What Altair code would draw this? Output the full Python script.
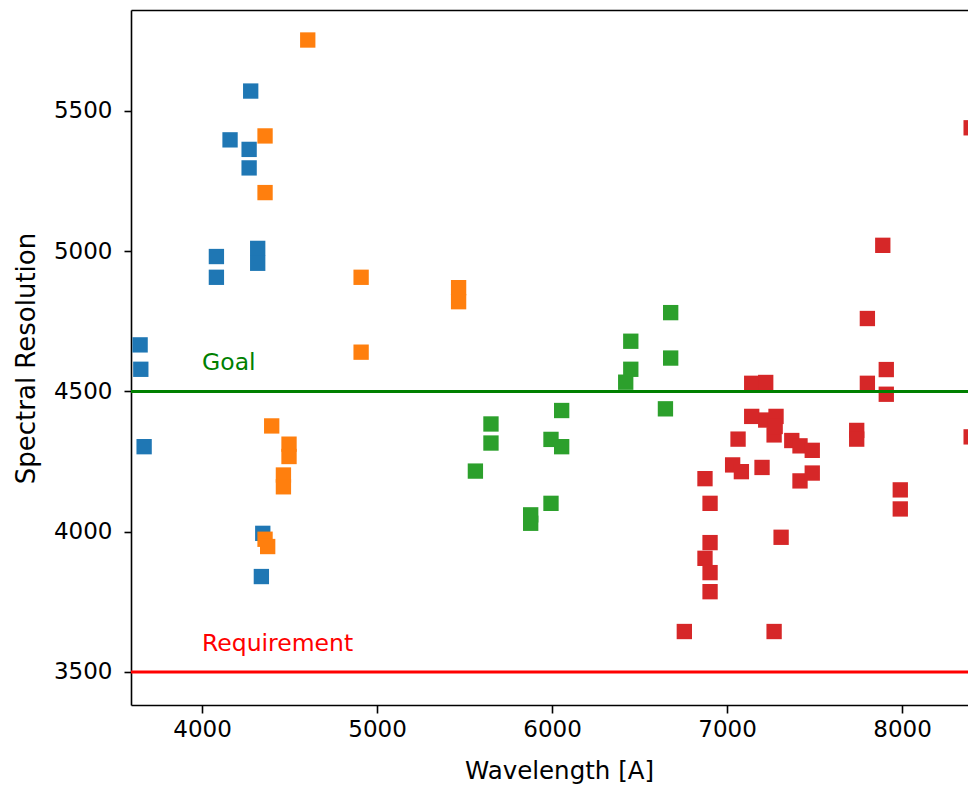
import altair as alt
import pandas as pd

# ---- data ----
blue_x = [3646, 3650, 3669, 4160, 4278, 4269, 4269, 4082, 4082, 4318, 4318, 4347, 4339]
blue_y = [4666, 4579, 4303, 5397, 5571, 5363, 5297, 4981, 4907, 5010, 4957, 3994, 3840]

orange_x = [4604, 4360, 4360, 4909, 4909, 5466, 5466, 4398, 4497, 4497, 4465, 4465, 4360, 4375]
orange_y = [5753, 5411, 5209, 4907, 4640, 4870, 4820, 4377, 4312, 4268, 4202, 4160, 3973, 3947]

green_x = [5562, 5651, 5651, 5878, 5878, 5994, 5994, 6055, 6055, 6421, 6450, 6450, 6648, 6678, 6678]
green_y = [4216, 4384, 4316, 4060, 4030, 4329, 4101, 4432, 4303, 4533, 4579, 4679, 4438, 4619, 4781]

red_x = [6756, 6874, 6874, 6903, 6903, 6903, 6903, 7032, 7063, 7082, 7141, 7141, 7200, 7221, 7221,
         7269, 7269, 7280, 7275, 7309, 7370, 7417, 7417, 7487, 7487, 7741, 7741, 7802, 7802, 7890,
         7910, 7910, 7990, 7990, 8395, 8395]
red_y = [3644, 4189, 3905, 4101, 3961, 3854, 3786, 4238, 4330, 4214, 4529, 4411, 4229, 4532, 4398,
         4345, 3644, 4411, 4375, 3980, 4325, 4306, 4181, 4290, 4209, 4361, 4330, 4760, 4529, 5021,
         4578, 4490, 4149, 4081, 5440, 4338]

series_names = ["s1", "s2", "s3", "s4"]
series_colors = ["#1f77b4", "#ff7f0e", "#2ca02c", "#d62728"]

level_names = ["Goal", "Requirement"]
level_values = [4500, 3500]
level_colors = ["green", "red"]

x_ticks = [4000, 5000, 6000, 7000, 8000]
y_ticks = [3500, 4000, 4500, 5000, 5500]
x_domain = [3594, 8377]
y_domain = [3382, 5860]

# ---- tables ----
rows = []
for name, xs, ys in zip(series_names, [blue_x, orange_x, green_x, red_x],
                        [blue_y, orange_y, green_y, red_y]):
    for a, b in zip(xs, ys):
        rows.append({"series": name, "wl": a, "res": b, "order": len(rows)})
pts = pd.DataFrame(rows)

levels = pd.DataFrame({"label": level_names, "value": level_values,
                       "color": level_colors, "x": [4000, 4000]})

FONT = "DejaVu Sans"

xscale = alt.Scale(domain=x_domain, nice=False, zero=False)
yscale = alt.Scale(domain=y_domain, nice=False, zero=False)

yaxis = alt.Axis(values=y_ticks, format="d", grid=False, tickSize=7, tickWidth=1.6,
                 tickColor="black", domainColor="black", domainWidth=1.6, labelFont=FONT,
                 labelFontSize=23, labelColor="black", labelPadding=12,
                 title="Spectral Resolution", titleFont=FONT, titleFontSize=26,
                 titleFontWeight="normal", titleColor="black",
                 titleX=-97, titleY=348, titleAngle=270, titleAlign="center",
                 titleBaseline="alphabetic")

xaxis = alt.Axis(values=x_ticks, format="d", grid=False, tickSize=8, tickWidth=1.6,
                 tickColor="black", domainColor="black", domainWidth=1.6, labelFont=FONT,
                 labelFontSize=23, labelColor="black", labelPadding=5,
                 title="Wavelength [A]", titleFont=FONT, titleFontSize=24.5,
                 titleFontWeight="normal", titleColor="black",
                 titleX=428, titleY=73, titleAlign="center", titleBaseline="alphabetic")

topaxis = alt.Axis(orient="top", grid=False, ticks=False, labels=False, title=None,
                   domainColor="black", domainWidth=1.6)

scatter = alt.Chart(pts).mark_square(size=235, opacity=1, clip=True, strokeWidth=0).encode(
    x=alt.X("wl:Q", scale=xscale, axis=xaxis),
    y=alt.Y("res:Q", scale=yscale, axis=yaxis),
    color=alt.Color("series:N", scale=alt.Scale(domain=series_names, range=series_colors),
                    legend=None),
    order=alt.Order("order:Q"),
)

rules = alt.Chart(levels).mark_rule(strokeWidth=3).encode(
    y=alt.Y("value:Q", scale=yscale, axis=yaxis),
    color=alt.Color("color:N", scale=None),
)

texts = alt.Chart(levels).mark_text(align="left", baseline="alphabetic", dy=-21,
                                    font=FONT, fontSize=23.5).encode(
    x=alt.X("x:Q", scale=xscale, axis=topaxis),
    y=alt.Y("value:Q", scale=yscale, axis=yaxis),
    text="label:N",
    color=alt.Color("color:N", scale=None),
)

chart = alt.layer(scatter, rules, texts).resolve_axis(x="independent").properties(
    width=837, height=695, autosize="none",
    padding={"left": 131, "top": 10, "right": 0, "bottom": 80},
    background="white",
).configure_view(strokeWidth=0)

chart.save("out.html", embed_options={"renderer": "svg", "actions": False})
